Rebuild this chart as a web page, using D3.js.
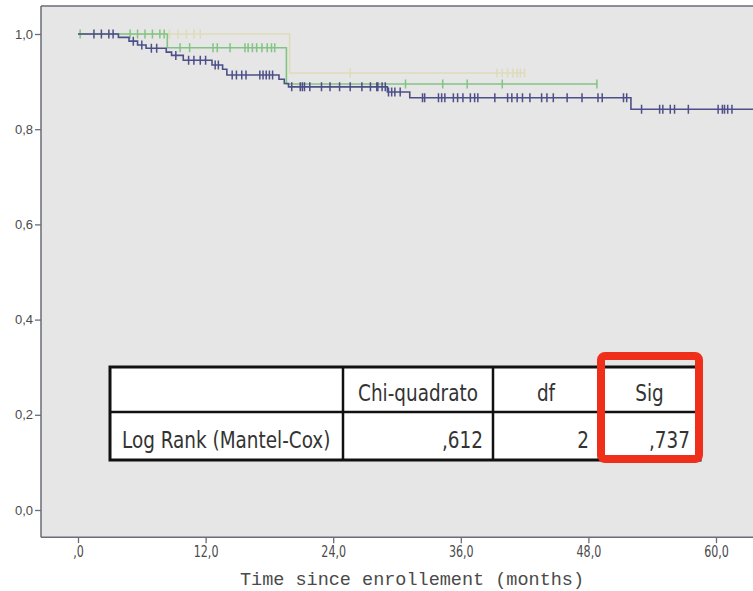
<!DOCTYPE html>
<html>
<head>
<meta charset="utf-8">
<script src="https://cdn.jsdelivr.net/npm/d3@7"></script>
<style>
  body { margin: 0; background: #fff; }
  .axis text { fill: #4a4a4a; }
  .axis line { stroke: #6a6d78; stroke-width: 1.3px; }
  .axis path { display: none; }
</style>
</head>
<body>
<div id="canvas"></div>
<script>
// ---- data ----
var xTicks = [0, 12, 24, 36, 48, 60];
var xTickLabels = [',0', '12,0', '24,0', '36,0', '48,0', '60,0'];
var yTicks = [0, 0.2, 0.4, 0.6, 0.8, 1.0];
var yTickLabels = ['0,0', '0,2', '0,4', '0,6', '0,8', '1,0'];
var xTitle = 'Time since enrollement (months)';

// blue group
var blueEventT = [3.8, 4.8, 5.6, 6.4, 8.3, 8.8, 9.9, 12.6, 13.6, 14.0, 18.9, 19.4, 19.8, 29.1, 31.2, 52.0];
var blueEventS = [0.993, 0.985, 0.977, 0.970, 0.962, 0.955, 0.945, 0.935, 0.926, 0.914, 0.905, 0.896, 0.889, 0.878, 0.866, 0.842];
var blueCensor = [1.5, 2.2, 2.9, 3.3, 5.2, 6.0, 6.9, 7.4, 9.2, 10.4, 10.9, 11.5, 12.0, 12.9, 13.2,
  14.5, 14.9, 15.4, 15.8, 17.1, 17.4, 17.7, 18.0, 18.3, 20.1, 20.9, 21.1, 21.3, 21.8, 22.9, 23.7,
  24.6, 25.6, 26.7, 27.5, 28.1, 28.2, 28.6, 28.9, 29.2, 29.5, 29.8, 30.3, 32.4, 32.6, 33.9, 34.2,
  34.5, 35.3, 35.7, 36.2, 36.9, 37.3, 37.6, 39.2, 40.4, 40.8, 41.3, 41.8, 42.5, 43.6, 44.1, 44.7,
  46.0, 47.4, 48.9, 49.3, 51.3, 51.6, 53.0, 54.7, 55.0, 55.7, 56.1, 57.4, 60.2, 60.6, 60.8, 61.1,
  61.5, 64.5];

// green group
var greenEventT = [8.4, 19.6];
var greenEventS = [0.971, 0.895];
var greenCensor = [0.2, 4.9, 5.6, 6.3, 7.0, 7.7, 8.1, 9.6, 10.5, 12.7, 13.1, 14.3, 15.7, 16.0, 16.4,
  16.8, 17.3, 17.8, 18.2, 18.5, 30.8, 34.3, 36.6, 39.9, 48.8];

// tan group
var tanEventT = [19.9];
var tanEventS = [0.918];
var tanCensor = [8.6, 9.4, 10.2, 10.9, 11.5, 25.6, 39.4, 39.9, 40.4, 40.9, 41.3, 41.6, 42.0];

// log rank table
var tableHeader = ['', 'Chi-quadrato', 'df', 'Sig'];
var tableRow = ['Log Rank (Mantel-Cox)', ',612', '2', ',737'];

// ---- layout ----
var W = 753, H = 591;
var svg = d3.select('#canvas').append('svg')
    .attr('width', W)
    .attr('height', H);

var x = d3.scaleLinear().domain([0, 60]).range([78, 716]);
var y = d3.scaleLinear().domain([0, 1]).range([510, 34]);
var xMin = -3.48, xMax = 66, yMin = -0.057, yMax = 1.059;

// squeeze text horizontally (no condensed face available)
function condense(sel, k) {
  sel.each(function() {
    if (!this.textContent) return;
    var len = this.getComputedTextLength();
    d3.select(this)
        .attr('textLength', len * k)
        .attr('lengthAdjust', 'spacingAndGlyphs');
  });
}

// plot background + frame
svg.append('rect')
    .attr('x', x(xMin)).attr('y', y(yMax))
    .attr('width', x(xMax) - x(xMin))
    .attr('height', y(yMin) - y(yMax))
    .attr('fill', '#e6e6e6');

svg.append('clipPath').attr('id', 'clip')
  .append('rect')
    .attr('x', x(xMin)).attr('y', y(yMax))
    .attr('width', W - x(xMin))
    .attr('height', y(yMin) - y(yMax));

var frame = svg.append('g')
    .attr('stroke', '#6a6d78')
    .attr('stroke-width', 1.5)
    .attr('fill', 'none');
frame.append('line').attr('x1', x(xMin)).attr('x2', x(xMin)).attr('y1', y(yMax)).attr('y2', y(yMin));
frame.append('line').attr('x1', x(xMin)).attr('x2', W).attr('y1', y(yMin)).attr('y2', y(yMin));
frame.append('line').attr('x1', x(xMin)).attr('x2', W).attr('y1', y(yMax)).attr('y2', y(yMax));

// axes
var axisY = d3.axisLeft(y)
    .tickValues(yTicks)
    .tickFormat(function(d, i) { return yTickLabels[i]; })
    .tickSize(6)
    .tickPadding(2);
svg.append('g').attr('class', 'axis axis-y')
    .attr('transform', 'translate(' + x(xMin) + ',0)')
    .call(axisY)
    .selectAll('text')
    .style('font-family', '"Liberation Sans", Arial, sans-serif')
    .style('font-size', '13px');

var sans = '"DejaVu Sans", sans-serif';

var axisX = d3.axisBottom(x)
    .tickValues(xTicks)
    .tickFormat(function(d, i) { return xTickLabels[i]; })
    .tickSize(6)
    .tickPadding(3);
svg.append('g').attr('class', 'axis axis-x')
    .attr('transform', 'translate(0,' + y(yMin) + ')')
    .call(axisX)
    .selectAll('text')
    .style('font-family', sans)
    .style('font-size', '15px')
    .call(condense, 0.74);

svg.append('text')
    .attr('x', 412).attr('y', 585)
    .attr('text-anchor', 'middle')
    .style('font-family', '"Liberation Mono", "Courier New", monospace')
    .style('font-size', '18.5px')
    .style('fill', '#4a4a4a')
    .text(xTitle);

// ---- KM curves ----
function kmPoints(evT, evS, end) {
  var pts = [[0, 1]], s = 1;
  evT.forEach(function(t, i) {
    pts.push([t, s]);
    s = evS[i];
    pts.push([t, s]);
  });
  pts.push([end, s]);
  return pts;
}
function survAt(evT, evS, t) {
  var s = 1;
  evT.forEach(function(e, i) { if (e <= t) s = evS[i]; });
  return s;
}

var series = [
  {name: 'tan',   color: '#dedbba', evT: tanEventT,   evS: tanEventS,   cens: tanCensor},
  {name: 'green', color: '#82c482', evT: greenEventT, evS: greenEventS, cens: greenCensor},
  {name: 'blue',  color: '#4c4f88', evT: blueEventT,  evS: blueEventS,  cens: blueCensor}
];

var line = d3.line().x(function(d) { return x(d[0]); }).y(function(d) { return y(d[1]); });
var curves = svg.append('g').attr('clip-path', 'url(#clip)');

series.forEach(function(sr) {
  var end = d3.max(sr.cens);
  var g = curves.append('g').attr('class', 'km ' + sr.name);
  g.append('path')
      .attr('d', line(kmPoints(sr.evT, sr.evS, end)))
      .attr('fill', 'none')
      .attr('stroke', sr.color)
      .attr('stroke-width', 1.6);
  g.selectAll('.cens').data(sr.cens)
    .enter().append('line')
      .attr('class', 'cens')
      .attr('x1', function(d) { return x(d); })
      .attr('x2', function(d) { return x(d); })
      .attr('y1', function(d) { return y(survAt(sr.evT, sr.evS, d)) - 4.5; })
      .attr('y2', function(d) { return y(survAt(sr.evT, sr.evS, d)) + 4.5; })
      .attr('stroke', sr.color)
      .attr('stroke-width', 1.5);
});

// ---- table ----
var colEdges = [110, 343, 493, 599, 700];
var rowEdges = [367, 412, 460];
var tbl = svg.append('g').attr('class', 'table');

tbl.append('rect')
    .attr('x', colEdges[0]).attr('y', rowEdges[0])
    .attr('width', colEdges[4] - colEdges[0])
    .attr('height', rowEdges[2] - rowEdges[0])
    .attr('fill', '#fff')
    .attr('stroke', '#111')
    .attr('stroke-width', 3);
colEdges.slice(1, 4).forEach(function(cx) {
  tbl.append('line')
      .attr('x1', cx).attr('x2', cx)
      .attr('y1', rowEdges[0]).attr('y2', rowEdges[2])
      .attr('stroke', '#111').attr('stroke-width', 2.5);
});
tbl.append('line')
    .attr('x1', colEdges[0]).attr('x2', colEdges[4])
    .attr('y1', rowEdges[1]).attr('y2', rowEdges[1])
    .attr('stroke', '#111').attr('stroke-width', 2.5);

var squeeze = 0.8;
tbl.selectAll('.hdr').data(tableHeader)
  .enter().append('text')
    .attr('class', 'hdr')
    .attr('x', function(d, i) { return (colEdges[i] + colEdges[i + 1]) / 2; })
    .attr('y', rowEdges[1] - 11)
    .attr('text-anchor', 'middle')
    .style('font-family', sans)
    .style('font-size', '23px')
    .style('fill', '#333')
    .text(function(d) { return d; })
    .call(condense, squeeze);

tbl.selectAll('.cell').data(tableRow)
  .enter().append('text')
    .attr('class', 'cell')
    .attr('x', function(d, i) { return i === 0 ? colEdges[0] + 12 : colEdges[i + 1] - 10; })
    .attr('y', rowEdges[2] - 12)
    .attr('text-anchor', function(d, i) { return i === 0 ? 'start' : 'end'; })
    .style('font-family', sans)
    .style('font-size', '23px')
    .style('fill', '#333')
    .text(function(d) { return d; })
    .call(condense, squeeze);

// red highlight around Sig column
svg.append('rect')
    .attr('x', 601).attr('y', 356)
    .attr('width', 98).attr('height', 103)
    .attr('rx', 4)
    .attr('fill', 'none')
    .attr('stroke', '#ef2f1a')
    .attr('stroke-width', 8);
</script>
</body>
</html>
